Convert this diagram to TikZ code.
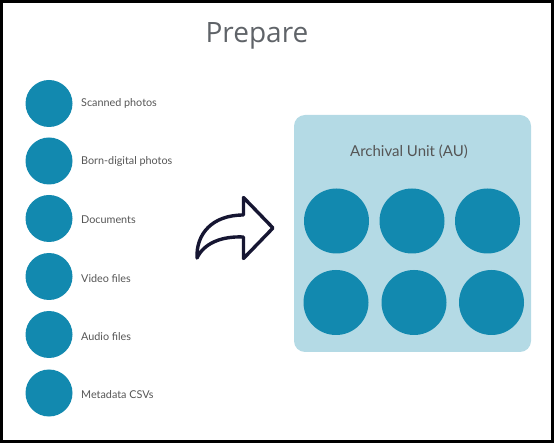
\documentclass[tikz,border=0pt]{standalone}
\usepackage{fontspec}
\setmainfont{Lato}
\newfontfamily\titlefont{Open Sans}
\definecolor{itemblue}{HTML}{1289AF}
\definecolor{unitbg}{HTML}{B4DAE5}
\definecolor{labelgray}{HTML}{555555}
\definecolor{titlegray}{HTML}{5F6368}
\definecolor{arrowink}{HTML}{161632}
\tikzset{
  item/.style={circle, fill=itemblue, inner sep=0pt, minimum size=47pt},
  bigitem/.style={circle, fill=itemblue, inner sep=0pt, minimum size=65pt},
  itemlabel/.style={anchor=west, inner sep=0pt, text=labelgray, font=\fontsize{10.8}{12}\selectfont},
}
\begin{document}
\begin{tikzpicture}[x=1pt, y=-1pt]
      \useasboundingbox (0,0) rectangle (554,443);
      \draw[line width=3pt] (1.5,1.5) rectangle (552.5,441.5);
      \node[text=titlegray, font=\titlefont\fontsize{28}{32}\selectfont] (title) at (257,36) {Prepare};
      % sources
      \draw
        (49,103.5) node[item] (s1){}
        (49,161) node[item] (s2){}
        (49,218.5) node[item] (s3){}
        (49,276.5) node[item] (s4){}
        (49,334.5) node[item] (s5){}
        (49,393) node[item] (s6){};
      \draw
        (81,103.5) node[itemlabel] (l1){Scanned photos}
        (81,161.5) node[itemlabel] (l2){Born-digital photos}
        (81,219.5) node[itemlabel] (l3){Documents}
        (81,278.5) node[itemlabel] (l4){Video files}
        (81,336.5) node[itemlabel] (l5){Audio files}
        (81,394.5) node[itemlabel] (l6){Metadata CSVs};
      % archival unit
      \fill[unitbg, rounded corners=11pt] (294,115) rectangle (531,352);
      \node[text=labelgray, font=\fontsize{15}{18}\selectfont] (au) at (409,152) {Archival Unit (AU)};
      \draw
        (336.5,221) node[bigitem] (u1){}
        (412,221) node[bigitem] (u2){}
        (487.5,221) node[bigitem] (u3){}
        (336,302.5) node[bigitem] (u4){}
        (414,302.5) node[bigitem] (u5){}
        (491.5,302.5) node[bigitem] (u6){};
      % arrow
      \draw[arrowink, line width=3.4pt, line join=round]
        (243.5,215) -- (243.5,197.5) -- (273,228) -- (243.5,258.5) -- (243.5,237)
        .. controls (222,236) and (204,243) .. (197,258)
        .. controls (196,234) and (212,215) .. cycle;
    \end{tikzpicture}
\end{document}
